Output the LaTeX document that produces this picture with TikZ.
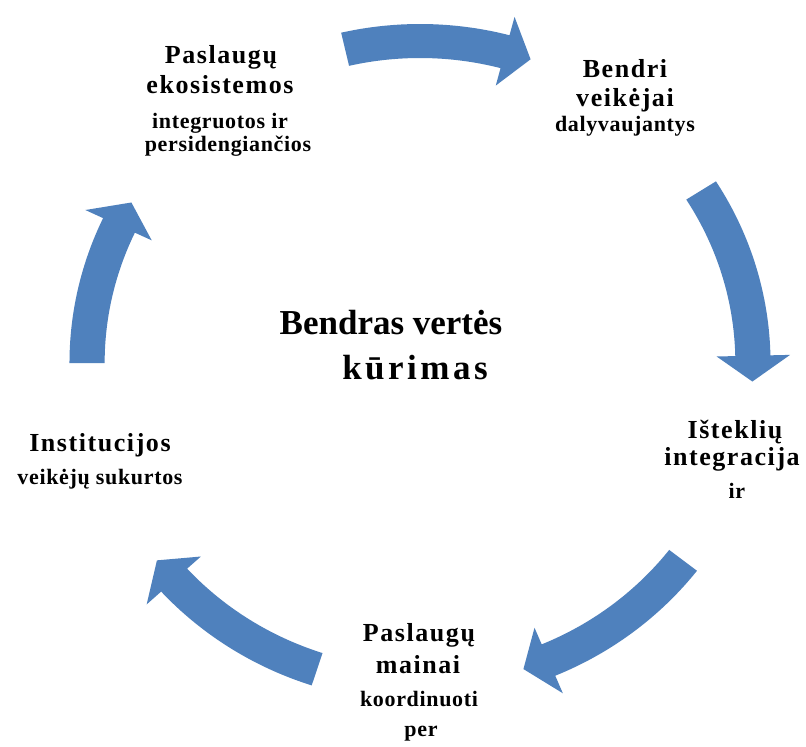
\documentclass[tikz,border=0pt]{standalone}
\usepackage{fontspec}
\setmainfont{Liberation Serif}
\newfontfamily\headfont[LetterSpace=6]{Liberation Serif}
\newfontfamily\subfont[LetterSpace=3]{Liberation Serif}
\newfontfamily\titlefont{Liberation Serif}
\definecolor{cycleblue}{RGB}{79,129,189}

% curved block arrow on the cycle ring: #1 tail angle, #2 tip angle (clockwise)
\newcommand\cyclearrow[2]{%
  \pgfmathsetmacro\cyneck{#2+4.6}
  \fill[cycleblue] (#1:339) -- (#1:305)
    -- plot[domain=#1:\cyneck, samples=40] (\x:305)
    -- (\cyneck:287) -- (#2:322) -- (\cyneck:358)
    -- plot[domain=\cyneck:#1, samples=40] (\x:339) -- cycle;
}

\begin{document}
\begin{tikzpicture}[x=1pt, y=-1pt,
  head/.style={font=\headfont\bfseries\fontsize{26}{30}\selectfont, inner sep=0pt, anchor=base},
  sub/.style={font=\subfont\bfseries\fontsize{22}{26}\selectfont, inner sep=0pt, anchor=base},
  title/.style={font=\titlefont\bfseries\fontsize{35}{40}\selectfont, inner sep=0pt, anchor=base}]
\useasboundingbox (0,0) rectangle (806,747);
\fill[white] (0,0) rectangle (806,747);

% the five cycle arrows
\begin{scope}[shift={(420pt,-363pt)}, x={(1.034pt,0pt)}, y={(0pt,1pt)}]
  \cyclearrow{103}{70.6}
  \cyclearrow{32.4}{-3.3}
  \cyclearrow{-37.8}{-71.9}
  \cyclearrow{-108}{-142.2}
  \cyclearrow{180}{150.1}
\end{scope}

% centre label
\node[title] (c1) at (391,334) {Bendras vertės};
\node[title] (c2) at (415,379) {\addfontfeature{LetterSpace=10}kūrimas};

% upper left
\node[head] (tl1) at (221,63) {Paslaugų};
\node[head] (tl2) at (220,93) {ekosistemos};
\node[sub]  (tl3) at (220,128) {integruotos ir};
\node[sub]  (tl4) at (228,151) {persidengiančios};

% upper right
\node[head] (tr1) at (625,77) {Bendri};
\node[head] (tr2) at (625,106) {veikėjai};
\node[sub]  (tr3) at (625,131) {dalyvaujantys};

% right
\node[head] (r1) at (735,438) {Išteklių};
\node[head] (r2) at (732,465) {integracija};
\node[sub]  (r3) at (737,498) {ir};

% bottom
\node[head] (b1) at (419,641) {Paslaugų};
\node[head] (b2) at (418,673) {mainai};
\node[sub]  (b3) at (419,706) {koordinuoti};
\node[sub]  (b4) at (421,736) {per};

% left
\node[head] (l1) at (100,451) {Institucijos};
\node[sub]  (l2) at (100,484) {veikėjų sukurtos};
\end{tikzpicture}
\end{document}
